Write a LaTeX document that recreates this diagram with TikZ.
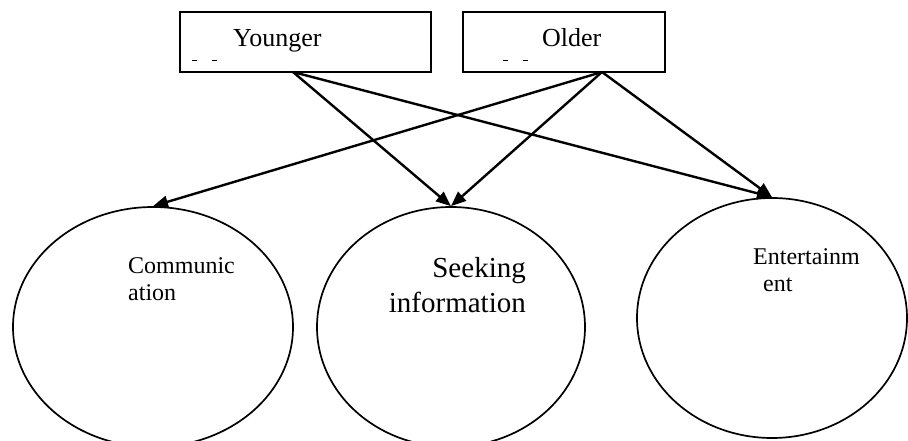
\documentclass[tikz,border=0pt]{standalone}
\usepackage{fontspec}
\setmainfont{Liberation Serif}
\usetikzlibrary{arrows.meta,shapes.geometric}
\tikzset{
  agebox/.style={draw,line width=1.6pt,minimum width=251pt,minimum height=60pt,inner sep=0pt},
  usebubble/.style={draw,ellipse,line width=1.7pt,inner sep=0pt},
  link/.style={line width=2.4pt,-{Triangle[length=15pt,width=12pt]}},
  cut/.style={line width=1pt}
}
\begin{document}
\begin{tikzpicture}[x=1pt,y=-1pt,font=\fontsize{24}{27}\selectfont]
  \useasboundingbox (0,0) rectangle (908,441);
  % age groups
  \node[agebox] (young) at (305.5,42) {};
  \node[agebox,minimum width=202pt] (old) at (564,42) {};
  \node[anchor=base west,inner sep=0pt,font=\fontsize{26}{30}\selectfont] (younglbl) at (233,47) {Younger};
  \node[anchor=base west,inner sep=0pt,font=\fontsize{26}{30}\selectfont] (oldlbl) at (542,47) {Older};
  \draw[cut] (192,61) -- (197,61) (212,61) -- (217,61);
  \draw[cut] (503,61) -- (508,61) (523,61) -- (528,61);
  \coordinate (ysrc) at (293,72);
  \coordinate (osrc) at (602,72);
  % uses
  \node[usebubble,minimum width=280pt,minimum height=240pt] (comm) at (153,327) {};
  \node[usebubble,minimum width=268pt,minimum height=240pt] (seek) at (451,327) {};
  \node[usebubble,minimum width=270pt,minimum height=240pt] (ent) at (772,318) {};
  \node[anchor=north west,inner sep=0pt,align=left] (commlbl) at (128,257)
    {Communic\\ation};
  \node[anchor=north east,inner sep=0pt,align=right,
        font=\fontsize{29}{35}\selectfont] (seeklbl) at (526,257)
    {Seeking\\information};
  \node[anchor=north west,inner sep=0pt,align=left] (entlbl) at (753,248)
    {Entertainm\\\hspace*{10pt}ent};
  % links
  \draw[link] (ysrc) -- (seek.north);
  \draw[link] (ysrc) -- (ent.north);
  \draw[link] (osrc) -- (comm.north);
  \draw[link] (osrc) -- (seek.north);
  \draw[link] (osrc) -- (ent.north);
\end{tikzpicture}
\end{document}
